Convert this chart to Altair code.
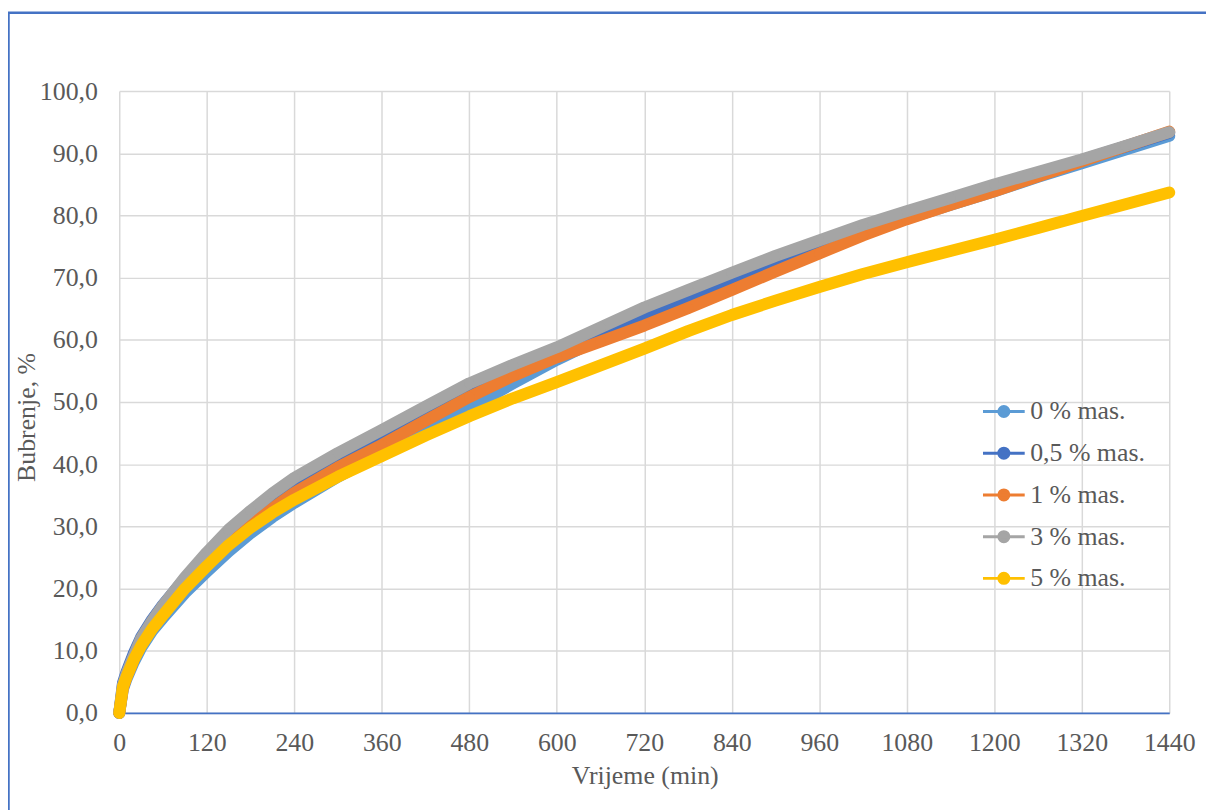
import altair as alt
import pandas as pd

# time points (min)
times = [0, 5, 10, 20, 30, 45, 60, 90, 120, 150, 180, 210, 240, 300, 360, 420, 480,
         540, 600, 660, 720, 780, 840, 900, 960, 1020, 1080, 1140, 1200, 1260, 1320, 1380, 1440]

# swelling (%) per series
s_0 = [0, 3.8, 5.5, 8.2, 10.5, 13.2, 15.3, 19.3, 22.7, 26.0, 28.9, 31.5, 33.8, 38.0, 41.8, 45.5, 49.0,
       53.0, 56.8, 60.2, 63.3, 66.2, 69.0, 71.8, 74.5, 77.1, 79.5, 81.7, 83.9, 86.2, 88.4, 90.6, 92.8]
s_05 = [0, 4.8, 6.6, 9.6, 12.2, 15.0, 17.4, 21.6, 25.4, 28.6, 31.4, 34.0, 36.4, 40.3, 43.9, 48.0, 51.9,
        55.0, 58.0, 61.2, 64.2, 67.0, 69.8, 72.6, 75.2, 77.7, 80.0, 82.3, 84.5, 86.7, 88.9, 91.1, 93.3]
s_1 = [0, 4.0, 5.8, 8.6, 11.0, 13.8, 16.0, 20.3, 24.0, 27.3, 30.2, 32.9, 35.4, 39.5, 43.1, 47.0, 50.8,
       54.2, 57.2, 59.7, 62.3, 65.1, 68.0, 71.0, 73.9, 76.8, 79.4, 81.7, 83.9, 86.3, 88.7, 91.1, 93.5]
s_3 = [0, 4.5, 6.3, 9.2, 12.0, 14.8, 17.3, 21.8, 25.8, 29.5, 32.5, 35.3, 37.8, 41.8, 45.5, 49.3, 53.0,
       56.0, 58.8, 62.0, 65.2, 68.0, 70.8, 73.5, 76.0, 78.5, 80.7, 82.8, 85.0, 87.0, 89.0, 91.2, 93.4]
s_5 = [0, 4.2, 5.8, 8.6, 10.8, 13.5, 15.7, 20.0, 23.6, 27.0, 29.8, 32.2, 34.3, 38.0, 41.3, 44.6, 47.7,
       50.6, 53.2, 55.9, 58.6, 61.4, 64.0, 66.3, 68.5, 70.6, 72.5, 74.3, 76.1, 78.0, 79.9, 81.8, 83.7]

series_names = ["0 % mas.", "0,5 % mas.", "1 % mas.", "3 % mas.", "5 % mas."]
series_colors = ["#5B9BD5", "#4472C4", "#ED7D31", "#A5A5A5", "#FFC000"]
x_ticks = list(range(0, 1441, 120))
y_ticks = list(range(0, 101, 10))

rows = []
for order, (name, vals) in enumerate(zip(series_names, [s_0, s_05, s_1, s_3, s_5])):
    for t, v in zip(times, vals):
        rows.append({"t": t, "v": v, "serija": name, "ord": order})
df = pd.DataFrame(rows)

FONT = "Liberation Serif"
TXT = "#595959"
FS = 26

legend = alt.Legend(
    title=None, orient="none", legendX=868, legendY=300,
    symbolType="M-1,0L1,0M-0.24,0A0.24,0.24,0,1,1,0.24,0A0.24,0.24,0,1,1,-0.24,0Z",
    symbolSize=1764, symbolStrokeWidth=3,
    labelFont=FONT, labelFontSize=FS, labelColor=TXT, labelOffset=4,
    rowPadding=6, padding=0,
)

color = alt.Color("serija:N", sort=series_names,
                  scale=alt.Scale(domain=series_names, range=series_colors),
                  legend=legend)

x = alt.X("t:Q", scale=alt.Scale(domain=[0, 1440], nice=False),
          axis=alt.Axis(values=x_ticks, title="Vrijeme (min)", ticks=False, format="d",
                        labelFlush=False, labelOverlap=False,
                        labelFont=FONT, labelFontSize=FS, labelColor=TXT, labelPadding=17,
                        titleFont=FONT, titleFontSize=FS, titleColor=TXT, titleFontWeight="normal",
                        titleX=529, titleY=63, titleBaseline="middle", titleAlign="center",
                        domainColor="#4472C4", domainWidth=1.8,
                        gridColor="#D9D9D9", gridWidth=1.5))
y = alt.Y("v:Q", scale=alt.Scale(domain=[0, 100], nice=False),
          axis=alt.Axis(values=y_ticks, title="Bubrenje, %", ticks=False, domain=False,
                        labelExpr="replace(format(datum.value, '.1f'), '.', ',')",
                        labelFlush=False, labelOverlap=False,
                        labelFont=FONT, labelFontSize=FS, labelColor=TXT, labelPadding=22,
                        titleFont=FONT, titleFontSize=FS, titleColor=TXT, titleFontWeight="normal",
                        titleX=-93, titleY=328, titleBaseline="middle", titleAlign="center",
                        titleAngle=-90,
                        gridColor="#D9D9D9", gridWidth=1.5))

layers = []
frame = alt.Chart(alt.Data(values=[{"a": 1}])).mark_rect(
    fill=None, stroke="#4472C4", strokeWidth=2.5
).encode(x=alt.value(-111.5), x2=alt.value(1200), y=alt.value(-79), y2=alt.value(800))
layers.append(frame)

for name in series_names:
    b = alt.Chart(df).transform_filter(alt.datum.serija == name).encode(
        x=x, y=y, color=color, order=alt.Order("t:Q"))
    layers.append(b.mark_line(strokeWidth=12, strokeCap="round", strokeJoin="round"))
    layers.append(b.mark_point(filled=True, size=113, opacity=1, shape="circle"))

chart = alt.layer(*layers).properties(
    width=1057, height=626,
    autosize=alt.AutoSizeParams(type="none"),
    padding={"left": 112, "top": 81, "right": 37, "bottom": 95},
    background="white",
).configure_view(stroke=None)

chart.save("out.html", embed_options={"renderer": "svg", "actions": False})
